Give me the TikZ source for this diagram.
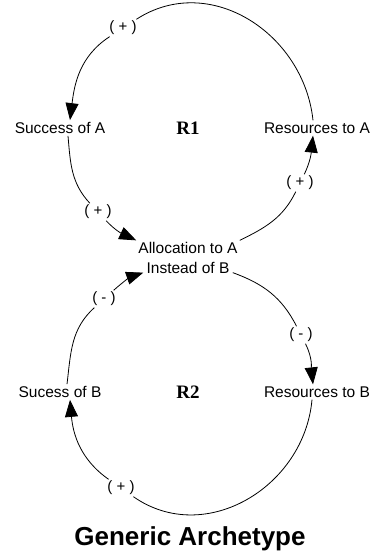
\documentclass[tikz,border=0pt]{standalone}
\usepackage{fontspec}
\setmainfont{Liberation Sans}
\newfontfamily\loopfont{Liberation Serif}
\usetikzlibrary{arrows.meta, positioning}

\begin{document}
\begin{tikzpicture}[x=1pt, y=1pt, node distance=128pt,
  var/.style={align=center, inner sep=2pt, font=\fontsize{15.5}{19.5}\selectfont},
  sign/.style={fill=white, inner sep=1.5pt, font=\fontsize{15}{18}\selectfont},
  loopname/.style={font=\loopfont\bfseries\fontsize{19}{22}\selectfont},
  link/.style={line width=0.8pt},
  arrow/.style={line width=0.8pt, -{Triangle[length=17pt, width=13pt]}}]

  \useasboundingbox (0,0) rectangle (376,556);

  % Nodes
  \node (r1) [loopname] at (188,428) {R1};
  \node (sucA) [var, left of=r1] {Success of A};
  \node (resA) [var, right of=r1, xshift=1pt] {Resources to A};
  \node (alloc) [var, below of=r1, yshift=-2pt] {Allocation to A \\ Instead of B};
  \node (r2) [loopname, below of=alloc, yshift=-6pt] {R2};
  \node (sucB) [var, left of=r2] {Sucess of B};
  \node (resB) [var, right of=r2, xshift=1pt] {Resources to B};
  \node (title) [below of=r2, xshift=2pt, yshift=-19pt, font=\bfseries\fontsize{26}{30}\selectfont] {Generic Archetype};

  % Polarity signs
  \node (s1) [sign] at (123,528) {( + )};
  \node (s2) [sign] at (98,344) {( + )};
  \node (s3) [sign] at (300,373) {( + )};
  \node (s4) [sign] at (104,257) {( - )};
  \node (s5) [sign] at (301,221) {( - )};
  \node (s6) [sign] at (121,68) {( + )};

  % Loop R1
  \draw [link] ([xshift=-4pt]resA.north) to[out=96, in=33, looseness=1.1] (s1);
  \draw [arrow] (s1) to[out=213, in=83] ([xshift=10pt]sucA.north);
  \draw [link] ([xshift=8pt]sucA.south) to[out=275, in=133] (s2);
  \draw [arrow] (s2) to[out=313, in=155] (alloc.north west);
  \draw [link] (alloc.north east) to[out=26, in=244] (s3);
  \draw [arrow] (s3) to[out=64, in=264] ([xshift=-4pt]resA.south);

  % Loop R2
  \draw [link] ([xshift=7pt]sucB.north) to[out=83, in=222] (s4);
  \draw [arrow] (s4) to[out=42, in=199] ([xshift=7pt, yshift=3pt]alloc.south west);
  \draw [link] ([xshift=-7pt, yshift=3pt]alloc.south east) to[out=-20, in=117] (s5);
  \draw [arrow] (s5) to[out=-63, in=96] ([xshift=-4pt]resB.north);
  \draw [link] ([xshift=-5pt]resB.south) to[out=-95, in=-35, looseness=1.1] (s6);
  \draw [arrow] (s6) to[out=145, in=-85] ([xshift=10pt]sucB.south);

\end{tikzpicture}
\end{document}
